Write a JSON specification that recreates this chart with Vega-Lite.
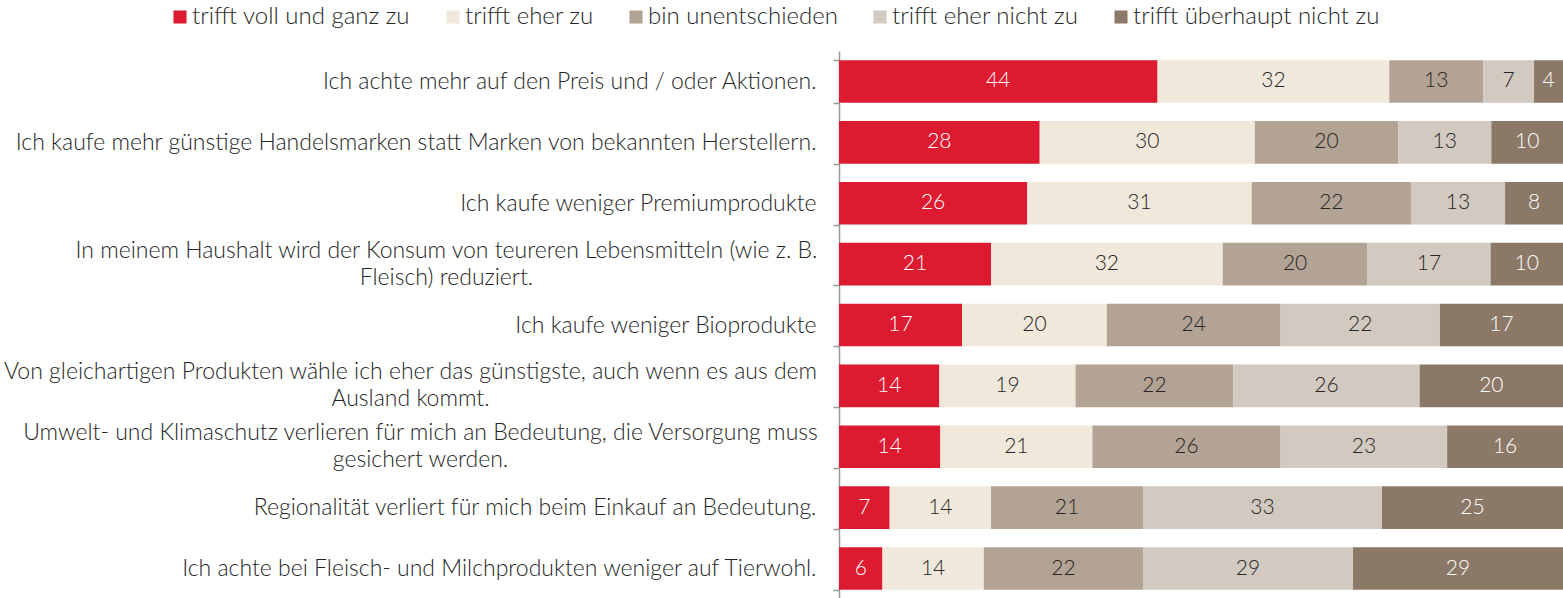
{
  "$schema": "https://vega.github.io/schema/vega-lite/v6.json",
  "autosize": {"type": "none"},
  "padding": {"left": 839, "top": 51, "right": 0, "bottom": 0},
  "width": 724,
  "height": 548,
  "config": {
    "view": {"stroke": null},
    "font": "Lato",
    "text": {"font": "Lato", "fontWeight": 300}
  },
  "data": {
    "values": [
      {"q": "Ich achte mehr auf den Preis und / oder Aktionen.", "cat": "trifft voll und ganz zu", "o": 1, "v": 44},
      {"q": "Ich achte mehr auf den Preis und / oder Aktionen.", "cat": "trifft eher zu", "o": 2, "v": 32},
      {"q": "Ich achte mehr auf den Preis und / oder Aktionen.", "cat": "bin unentschieden", "o": 3, "v": 13},
      {"q": "Ich achte mehr auf den Preis und / oder Aktionen.", "cat": "trifft eher nicht zu", "o": 4, "v": 7},
      {"q": "Ich achte mehr auf den Preis und / oder Aktionen.", "cat": "trifft überhaupt nicht zu", "o": 5, "v": 4},
      {"q": "Ich kaufe mehr günstige Handelsmarken statt Marken von bekannten Herstellern.", "cat": "trifft voll und ganz zu", "o": 1, "v": 28},
      {"q": "Ich kaufe mehr günstige Handelsmarken statt Marken von bekannten Herstellern.", "cat": "trifft eher zu", "o": 2, "v": 30},
      {"q": "Ich kaufe mehr günstige Handelsmarken statt Marken von bekannten Herstellern.", "cat": "bin unentschieden", "o": 3, "v": 20},
      {"q": "Ich kaufe mehr günstige Handelsmarken statt Marken von bekannten Herstellern.", "cat": "trifft eher nicht zu", "o": 4, "v": 13},
      {"q": "Ich kaufe mehr günstige Handelsmarken statt Marken von bekannten Herstellern.", "cat": "trifft überhaupt nicht zu", "o": 5, "v": 10},
      {"q": "Ich kaufe weniger Premiumprodukte", "cat": "trifft voll und ganz zu", "o": 1, "v": 26},
      {"q": "Ich kaufe weniger Premiumprodukte", "cat": "trifft eher zu", "o": 2, "v": 31},
      {"q": "Ich kaufe weniger Premiumprodukte", "cat": "bin unentschieden", "o": 3, "v": 22},
      {"q": "Ich kaufe weniger Premiumprodukte", "cat": "trifft eher nicht zu", "o": 4, "v": 13},
      {"q": "Ich kaufe weniger Premiumprodukte", "cat": "trifft überhaupt nicht zu", "o": 5, "v": 8},
      {"q": "In meinem Haushalt wird der Konsum von teureren Lebensmitteln (wie z. B.|Fleisch) reduziert.", "cat": "trifft voll und ganz zu", "o": 1, "v": 21},
      {"q": "In meinem Haushalt wird der Konsum von teureren Lebensmitteln (wie z. B.|Fleisch) reduziert.", "cat": "trifft eher zu", "o": 2, "v": 32},
      {"q": "In meinem Haushalt wird der Konsum von teureren Lebensmitteln (wie z. B.|Fleisch) reduziert.", "cat": "bin unentschieden", "o": 3, "v": 20},
      {"q": "In meinem Haushalt wird der Konsum von teureren Lebensmitteln (wie z. B.|Fleisch) reduziert.", "cat": "trifft eher nicht zu", "o": 4, "v": 17},
      {"q": "In meinem Haushalt wird der Konsum von teureren Lebensmitteln (wie z. B.|Fleisch) reduziert.", "cat": "trifft überhaupt nicht zu", "o": 5, "v": 10},
      {"q": "Ich kaufe weniger Bioprodukte", "cat": "trifft voll und ganz zu", "o": 1, "v": 17},
      {"q": "Ich kaufe weniger Bioprodukte", "cat": "trifft eher zu", "o": 2, "v": 20},
      {"q": "Ich kaufe weniger Bioprodukte", "cat": "bin unentschieden", "o": 3, "v": 24},
      {"q": "Ich kaufe weniger Bioprodukte", "cat": "trifft eher nicht zu", "o": 4, "v": 22},
      {"q": "Ich kaufe weniger Bioprodukte", "cat": "trifft überhaupt nicht zu", "o": 5, "v": 17},
      {"q": "Von gleichartigen Produkten wähle ich eher das günstigste, auch wenn es aus dem|Ausland kommt.", "cat": "trifft voll und ganz zu", "o": 1, "v": 14},
      {"q": "Von gleichartigen Produkten wähle ich eher das günstigste, auch wenn es aus dem|Ausland kommt.", "cat": "trifft eher zu", "o": 2, "v": 19},
      {"q": "Von gleichartigen Produkten wähle ich eher das günstigste, auch wenn es aus dem|Ausland kommt.", "cat": "bin unentschieden", "o": 3, "v": 22},
      {"q": "Von gleichartigen Produkten wähle ich eher das günstigste, auch wenn es aus dem|Ausland kommt.", "cat": "trifft eher nicht zu", "o": 4, "v": 26},
      {"q": "Von gleichartigen Produkten wähle ich eher das günstigste, auch wenn es aus dem|Ausland kommt.", "cat": "trifft überhaupt nicht zu", "o": 5, "v": 20},
      {"q": "Umwelt- und Klimaschutz verlieren für mich an Bedeutung, die Versorgung muss|gesichert werden.", "cat": "trifft voll und ganz zu", "o": 1, "v": 14},
      {"q": "Umwelt- und Klimaschutz verlieren für mich an Bedeutung, die Versorgung muss|gesichert werden.", "cat": "trifft eher zu", "o": 2, "v": 21},
      {"q": "Umwelt- und Klimaschutz verlieren für mich an Bedeutung, die Versorgung muss|gesichert werden.", "cat": "bin unentschieden", "o": 3, "v": 26},
      {"q": "Umwelt- und Klimaschutz verlieren für mich an Bedeutung, die Versorgung muss|gesichert werden.", "cat": "trifft eher nicht zu", "o": 4, "v": 23},
      {"q": "Umwelt- und Klimaschutz verlieren für mich an Bedeutung, die Versorgung muss|gesichert werden.", "cat": "trifft überhaupt nicht zu", "o": 5, "v": 16},
      {"q": "Regionalität verliert für mich beim Einkauf an Bedeutung.", "cat": "trifft voll und ganz zu", "o": 1, "v": 7},
      {"q": "Regionalität verliert für mich beim Einkauf an Bedeutung.", "cat": "trifft eher zu", "o": 2, "v": 14},
      {"q": "Regionalität verliert für mich beim Einkauf an Bedeutung.", "cat": "bin unentschieden", "o": 3, "v": 21},
      {"q": "Regionalität verliert für mich beim Einkauf an Bedeutung.", "cat": "trifft eher nicht zu", "o": 4, "v": 33},
      {"q": "Regionalität verliert für mich beim Einkauf an Bedeutung.", "cat": "trifft überhaupt nicht zu", "o": 5, "v": 25},
      {"q": "Ich achte bei Fleisch- und Milchprodukten weniger auf Tierwohl.", "cat": "trifft voll und ganz zu", "o": 1, "v": 6},
      {"q": "Ich achte bei Fleisch- und Milchprodukten weniger auf Tierwohl.", "cat": "trifft eher zu", "o": 2, "v": 14},
      {"q": "Ich achte bei Fleisch- und Milchprodukten weniger auf Tierwohl.", "cat": "bin unentschieden", "o": 3, "v": 22},
      {"q": "Ich achte bei Fleisch- und Milchprodukten weniger auf Tierwohl.", "cat": "trifft eher nicht zu", "o": 4, "v": 29},
      {"q": "Ich achte bei Fleisch- und Milchprodukten weniger auf Tierwohl.", "cat": "trifft überhaupt nicht zu", "o": 5, "v": 29}
    ]
  },
  "transform": [
    {"stack": "v", "groupby": ["q"], "sort": [{"field": "o"}], "as": ["s0", "s1"], "offset": "normalize"},
    {"calculate": "(datum.s0 + datum.s1) / 2", "as": "mid"}
  ],
  "encoding": {
    "y": {
      "field": "q", "type": "nominal", "sort": null,
      "scale": {"paddingInner": 0.3, "paddingOuter": 0.15},
      "axis": {
        "title": null,
        "labelExpr": "isValid(datum.value) ? (indexof(datum.value, '|') >= 0 ? split(datum.value, '|') : datum.value) : ''",
        "labelFont": "Lato", "labelFontWeight": 300, "labelFontSize": 23, "labelColor": "#262626",
        "labelLineHeight": 27,
        "labelPadding": 17, "labelLimit": 900,
        "ticks": true, "tickBand": "extent", "tickSize": 6, "tickColor": "#999999", "tickWidth": 1.5,
        "domainColor": "#999999", "domainWidth": 1.5,
        "encoding": {
          "labels": {
            "align": {"condition": {"test": "isValid(datum.value) && indexof(datum.value, '|') >= 0", "value": "center"}, "value": "right"},
            "dx": {"condition": [
              {"test": "isValid(datum.value) && indexof(datum.value, 'In meinem') == 0", "value": -370},
              {"test": "isValid(datum.value) && indexof(datum.value, 'Von gleich') == 0", "value": -406},
              {"test": "isValid(datum.value) && indexof(datum.value, 'Umwelt') == 0", "value": -396}
            ], "value": 0},
            "dy": {"condition": {"test": "isValid(datum.value) && indexof(datum.value, '|') >= 0", "value": -14}, "value": 0}
          }
        }
      }
    }
  },
  "layer": [
    {
      "mark": {"type": "bar"},
      "encoding": {
        "x": {"field": "s0", "type": "quantitative", "scale": {"domain": [0, 1]}, "axis": null},
        "x2": {"field": "s1"},
        "color": {
          "field": "cat", "type": "nominal",
          "scale": {
            "domain": ["trifft voll und ganz zu", "trifft eher zu", "bin unentschieden", "trifft eher nicht zu", "trifft überhaupt nicht zu"],
            "range": ["#DC1A30", "#F0E8DB", "#B3A394", "#D2C9C0", "#8C7866"]
          },
          "legend": {
            "title": null, "orient": "none", "direction": "horizontal",
            "legendX": -671, "legendY": -46,
            "symbolType": "square", "symbolSize": 170, "symbolStrokeWidth": 0,
            "labelFont": "Lato", "labelFontWeight": 300, "labelFontSize": 24, "labelColor": "#262626",
            "labelOffset": 0, "columnPadding": 30, "labelLimit": 400
          }
        }
      }
    },
    {
      "mark": {"type": "text", "fontSize": 21, "baseline": "middle"},
      "encoding": {
        "x": {"field": "mid", "type": "quantitative", "scale": {"domain": [0, 1]}},
        "text": {"field": "v", "type": "quantitative"},
        "color": {
          "condition": {"test": "datum.o == 1 || datum.o == 5", "value": "#ffffff"},
          "value": "#262626"
        }
      }
    }
  ]
}
